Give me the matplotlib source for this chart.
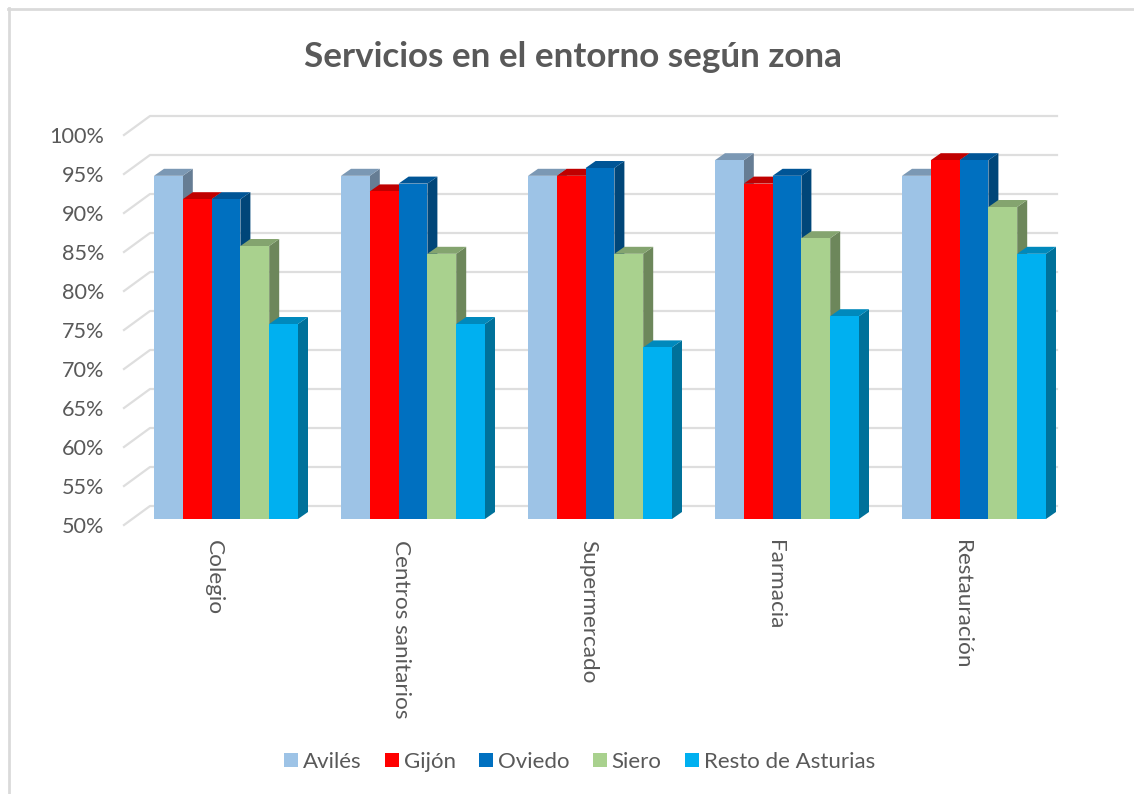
import matplotlib
matplotlib.use("Agg")
import matplotlib.pyplot as plt
from matplotlib.patches import Polygon, Rectangle
from matplotlib.lines import Line2D

plt.rcParams['font.family'] = ['Lato', 'DejaVu Sans']

categories = ["Colegio", "Centros sanitarios", "Supermercado", "Farmacia", "Restauración"]
series = ["Avilés", "Gijón", "Oviedo", "Siero", "Resto de Asturias"]
aviles = [94, 94, 94, 96, 94]
gijon = [91, 92, 94, 93, 96]
oviedo = [91, 93, 95, 94, 96]
siero = [85, 84, 84, 86, 90]
resto = [75, 75, 72, 76, 84]
values = [aviles, gijon, oviedo, siero, resto]
colors = ["#9DC3E6", "#FF0000", "#0070C0", "#A9D18E", "#00B0F0"]
top_colors = ["#7B98B4", "#C00000", "#005596", "#84A46F", "#0089BC"]
side_colors = ["#667D94", "#A00000", "#004679", "#6D875B", "#00719A"]
ticks = list(range(50, 101, 5))
grid_color = "#DEDEDE"
text_color = "#595959"

W, H = 1134, 794
fig = plt.figure(figsize=(W / 100, H / 100), dpi=100, facecolor="white")
L, R, T, B = 124, 1057, 116, 525
ax = fig.add_axes([L / W, 1 - B / H, (R - L) / W, (B - T) / H])
PX_X, PX_Y = 187.0, 7.8
ax.set_xlim((L - 226) / PX_X, (R - 226) / PX_X)
ax.set_ylim(50 + (519 - B) / PX_Y, 50 + (519 - T) / PX_Y)
ax.axis("off")

bw = 28.8 / PX_X
dx, dy = 10 / PX_X, 7 / PX_Y
wall_x0, wall_x1 = (124 - 226) / PX_X, (150 - 226) / PX_X
wall_x2 = (1057 - 226) / PX_X
back, front = 13 / PX_Y, -6 / PX_Y

for v in ticks:
    ax.add_line(Line2D([wall_x0, wall_x1, wall_x2], [v + front, v + back, v + back],
                       color=grid_color, lw=1.6, clip_on=False, zorder=1))
    ax.annotate(f"{v}%", (wall_x0, v + front), xytext=(-20, -2), textcoords="offset pixels",
                ha="right", va="center", fontsize=15.6, color=text_color, annotation_clip=False)

for c, cat in enumerate(categories):
    for s in range(len(series)):
        v = values[s][c]
        x0 = c + (s - 2.5) * bw
        x1 = x0 + bw
        z = 3 + s
        ax.add_patch(Polygon([(x1, 50), (x1 + dx, 50 + dy), (x1 + dx, v + dy), (x1, v)],
                             fc=side_colors[s], ec="none", zorder=z))
        ax.add_patch(Polygon([(x0, v), (x0 + dx, v + dy), (x1 + dx, v + dy), (x1, v)],
                             fc=top_colors[s], ec="none", zorder=z))
        ax.add_patch(Rectangle((x0, 50), bw, v - 50, fc=colors[s], ec="none", zorder=z + 0.5))
    ax.annotate(cat, (c, 50), xytext=(-12, -21), textcoords="offset pixels",
                rotation=270, ha="center", va="top", fontsize=16.2, color=text_color,
                annotation_clip=False)

fig.text(573 / W, 1 - 57 / H, "Servicios en el entorno según zona", ha="center", va="center",
         fontsize=25.2, fontweight="bold", color=text_color)

handles = [Rectangle((0, 0), 1, 1, fc=col, ec="none") for col in colors]
fig.legend(handles, series, loc="center", bbox_to_anchor=(579.5 / W, 1 - 762 / H), ncol=5,
           frameon=False, fontsize=16, labelcolor=text_color, handlelength=0.63,
           handleheight=0.63, handletextpad=0.22, columnspacing=1.05)

border = "#DADADA"
fig.add_artist(Line2D([8.5 / W, 8.5 / W], [0, 1 - 8 / H], color=border, lw=2.0))
fig.add_artist(Line2D([7.5 / W, 1], [1 - 9 / H, 1 - 9 / H], color=border, lw=2.0))
fig.savefig("out.png", dpi=100)
